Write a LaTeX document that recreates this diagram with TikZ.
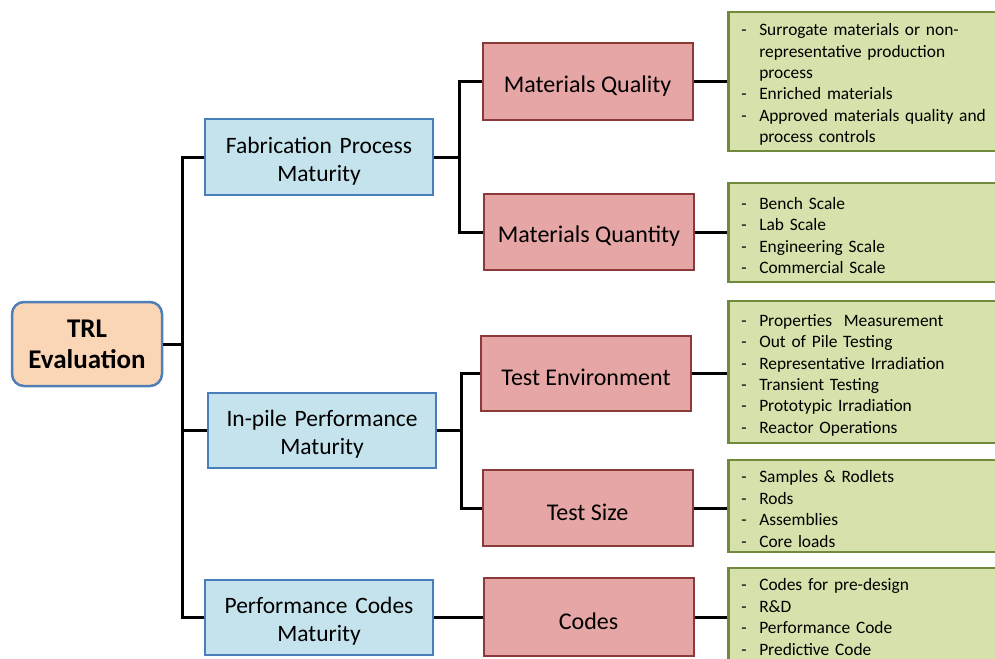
\documentclass[tikz,border=0pt]{standalone}
\usepackage{fontspec}
\setmainfont{Carlito}
\usepackage{tikz}

\definecolor{trlfill}{HTML}{FBD6B6}
\definecolor{trldraw}{HTML}{4F7FB5}
\definecolor{matfill}{HTML}{C4E3EC}
\definecolor{matdraw}{HTML}{4A7EBB}
\definecolor{subfill}{HTML}{E6A6A5}
\definecolor{subdraw}{HTML}{8A3A38}
\definecolor{lstfill}{HTML}{D6E1AB}
\definecolor{lstdraw}{HTML}{70893A}

\newcommand{\li}[1]{\makebox[18pt][l]{-}#1}
\newcommand{\lc}[1]{\hspace*{18pt}#1}

\begin{document}
\begin{tikzpicture}[x=1pt, y=-1pt,
  trl/.style={draw=trldraw, fill=trlfill, line width=2.5pt, rounded corners=12pt,
    minimum width=150pt, minimum height=84pt, align=center,
    font=\fontsize{27}{31}\selectfont\bfseries},
  mat/.style={draw=matdraw, fill=matfill, line width=2pt, minimum width=228pt,
    minimum height=75pt, text width=214pt, align=center,
    font=\fontsize{23.5}{28}\selectfont,
    execute at begin node={\rule{0pt}{1.05em}}},
  sub/.style={draw=subdraw, fill=subfill, line width=2pt, minimum width=210pt,
    minimum height=76pt, font=\fontsize{24}{26}\selectfont,
    execute at begin node={\rule{0pt}{1.05em}}},
  lst/.style={draw=lstdraw, fill=lstfill, line width=2.5pt, anchor=west,
    text width=262pt, inner xsep=13pt, align=left,
    font=\fontsize{17.4}{21.4}\selectfont,
    execute at begin node={\rule{0pt}{1.05em}}},
  link/.style={line width=3pt}]
  \useasboundingbox (0,0) rectangle (995,658);
  \clip (0,0) rectangle (995,658);

  \node[trl] (t1) at (87,344) {TRL\\Evaluation};

  \node[mat] (b1) at (319,157) {Fabrication Process\\Maturity};
  \node[mat] (b2) at (322,430) {In-pile Performance\\Maturity};
  \node[mat] (b3) at (319,617) {Performance Codes\\Maturity};

  \node[sub, minimum height=77pt] (r1) at (587.5,82) {Materials Quality};
  \node[sub] (r2) at (589,232) {Materials Quantity};
  \node[sub, minimum height=75pt] (r3) at (586,373) {Test Environment};
  \node[sub] (r4) at (587.5,508) {Test Size};
  \node[sub, minimum height=78pt] (r5) at (588.5,617) {Codes};

  \node[lst, minimum height=139pt] (g1) at (727,81.5) {%
    \li{Surrogate materials or non-}\\ \lc{representative production}\\
    \lc{process}\\ \li{Enriched materials}\\
    \li{Approved materials quality and}\\ \lc{process controls}};
  \node[lst, minimum height=99pt] (g2) at (727,232.5) {%
    \li{Bench Scale}\\ \li{Lab Scale}\\ \li{Engineering Scale}\\
    \li{Commercial Scale}};
  \node[lst, minimum height=142pt] (g3) at (727,372) {%
    \li{Properties\ \ Measurement}\\ \li{Out of Pile Testing}\\
    \li{Representative Irradiation}\\ \li{Transient Testing}\\
    \li{Prototypic Irradiation}\\ \li{Reactor Operations}};
  \node[lst, minimum height=92pt] (g4) at (727,506) {%
    \li{Samples \& Rodlets}\\ \li{Rods}\\ \li{Assemblies}\\ \li{Core loads}};
  \node[lst, minimum height=92pt] (g5) at (727,614) {%
    \li{Codes for pre-design}\\ \li{R\&D}\\ \li{Performance Code}\\
    \li{Predictive Code}};

  \draw[link] (t1.east) -- ++(19,0) coordinate (j0);
  \draw[link] (b1.west) -| (j0) |- (b3.west);
  \draw[link] (b2.west) -- (b2.west -| j0);

  \draw[link] (b1.east) -- ++(25,0) coordinate (j1);
  \draw[link] (r1.west) -| (j1) |- (r2.west);
  \draw[link] (b2.east) -- ++(24,0) coordinate (j2);
  \draw[link] (r3.west) -| (j2) |- (r4.west);
  \draw[link] (b3.east) -- (r5.west);

  \foreach \i in {1,...,5}
    \draw[link] (r\i.east) -- (r\i.east -| g\i.west);
\end{tikzpicture}
\end{document}
